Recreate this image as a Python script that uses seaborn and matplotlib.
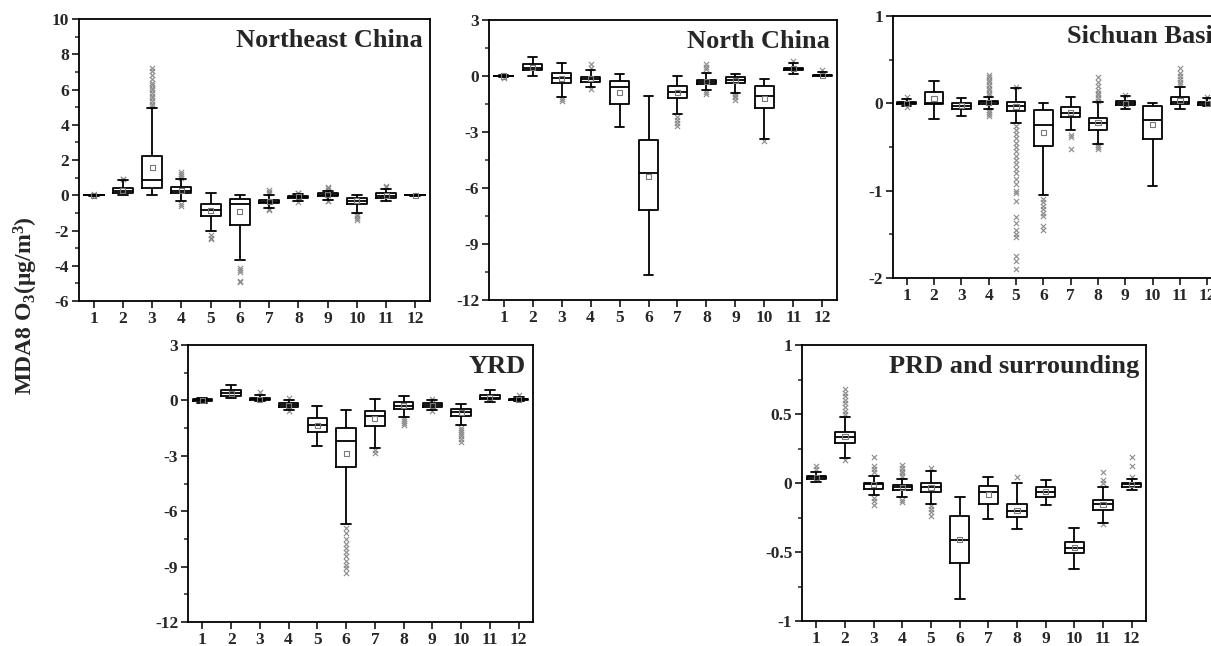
import numpy as np
import pandas as pd
import matplotlib
matplotlib.use("Agg")
import matplotlib.pyplot as plt
from matplotlib.ticker import MultipleLocator, FormatStrFormatter
import seaborn as sns

months = list(range(1, 13))

# ---- Northeast China ----
ne_lo = [-0.03, 0.0, 0.0, -0.35, -2.05, -3.7, -0.7, -0.35, -0.25, -1.0, -0.35, -0.03]
ne_q1 = [-0.01, 0.1, 0.42, 0.1, -1.15, -1.68, -0.45, -0.15, -0.05, -0.48, -0.15, -0.01]
ne_med = [0.0, 0.25, 0.88, 0.25, -0.85, -0.48, -0.37, -0.08, 0.02, -0.3, -0.02, 0.0]
ne_q3 = [0.01, 0.4, 2.25, 0.45, -0.5, -0.22, -0.28, -0.04, 0.1, -0.15, 0.1, 0.01]
ne_hi = [0.03, 0.88, 4.93, 0.9, 0.1, 0.0, 0.0, 0.05, 0.25, 0.0, 0.35, 0.03]
ne_mean = [0.0, 0.25, 1.55, 0.27, -0.85, -0.92, -0.37, -0.08, 0.03, -0.32, -0.03, 0.0]
ne_out = [[0.05, -0.05], [0.95, 0.92],
          [5.05, 5.2, 5.35, 5.5, 5.65, 5.8, 5.95, 6.1, 6.25, 6.35, 6.6, 6.85, 7.05, 7.2],
          [1.0, 1.1, 1.2, 1.3, -0.5, -0.6], [-2.25, -2.4, -2.5],
          [-4.1, -4.25, -4.35, -4.85, -4.95], [0.1, 0.2, 0.3, -0.8, -0.85],
          [0.1, 0.15, -0.4], [0.3, 0.4, 0.45, -0.3, -0.35],
          [-1.1, -1.2, -1.3, -1.4], [0.45, 0.5], []]

# ---- North China ----
nc_lo = [-0.05, 0.0, -1.1, -0.6, -2.75, -10.65, -2.05, -0.75, -0.9, -3.4, 0.1, -0.02]
nc_q1 = [-0.02, 0.3, -0.4, -0.3, -1.5, -7.2, -1.2, -0.45, -0.4, -1.7, 0.3, 0.0]
nc_med = [0.0, 0.45, -0.1, -0.15, -0.6, -5.2, -0.85, -0.3, -0.2, -1.05, 0.4, 0.03]
nc_q3 = [0.02, 0.65, 0.15, -0.05, -0.25, -3.45, -0.55, -0.2, -0.05, -0.55, 0.45, 0.06]
nc_hi = [0.05, 1.0, 0.7, 0.3, 0.1, -1.05, 0.0, 0.15, 0.1, -0.15, 0.7, 0.2]
nc_mean = [0.0, 0.45, -0.15, -0.15, -0.9, -5.4, -0.9, -0.3, -0.25, -1.2, 0.4, 0.04]
nc_out = [[-0.1], [], [-1.25, -1.35], [0.45, 0.65, -0.7], [], [],
          [-2.2, -2.35, -2.5, -2.7], [0.35, 0.5, 0.65, -0.85, -0.95],
          [-0.95, -1.05, -1.15, -1.3], [-3.5], [0.8], [0.3]]

# ---- Sichuan Basin ----
sc_lo = [-0.03, -0.18, -0.14, -0.06, -0.23, -1.05, -0.31, -0.46, -0.07, -0.95, -0.07, -0.03]
sc_q1 = [-0.01, -0.01, -0.07, -0.01, -0.09, -0.49, -0.16, -0.3, -0.02, -0.41, -0.01, -0.02]
sc_med = [0.0, 0.0, -0.03, 0.01, -0.03, -0.25, -0.11, -0.23, 0.0, -0.19, 0.01, 0.0]
sc_q3 = [0.02, 0.13, 0.0, 0.03, 0.02, -0.08, -0.04, -0.17, 0.03, -0.03, 0.07, 0.02]
sc_hi = [0.05, 0.26, 0.06, 0.07, 0.17, 0.0, 0.07, 0.01, 0.08, 0.0, 0.19, 0.06]
sc_mean = [0.0, 0.05, -0.03, 0.01, -0.04, -0.33, -0.1, -0.22, 0.0, -0.24, 0.03, 0.0]
sc_out = [[0.07, -0.04], [], [],
          [0.09, 0.12, 0.15, 0.18, 0.21, 0.24, 0.27, 0.3, 0.32, -0.08, -0.1, -0.12, -0.15],
          [0.19, -0.26, -0.3, -0.35, -0.4, -0.45, -0.5, -0.55, -0.6, -0.65, -0.7, -0.75,
           -0.8, -0.87, -0.92, -1.0, -1.03, -1.12, -1.3, -1.37, -1.45, -1.5, -1.53,
           -1.75, -1.8, -1.9],
          [-1.1, -1.13, -1.17, -1.21, -1.25, -1.29, -1.4, -1.45],
          [-0.36, -0.39, -0.52],
          [0.03, 0.06, 0.09, 0.12, 0.15, 0.2, 0.25, 0.3, -0.48, -0.5, -0.52],
          [0.1], [], [0.22, 0.25, 0.28, 0.31, 0.35, 0.4], [0.07]]

# ---- YRD ----
yrd_lo = [-0.15, 0.15, -0.05, -0.5, -2.45, -6.7, -2.6, -0.9, -0.5, -1.35, -0.1, -0.02]
yrd_q1 = [-0.05, 0.25, 0.0, -0.35, -1.7, -3.6, -1.4, -0.45, -0.35, -0.85, 0.05, 0.0]
yrd_med = [0.0, 0.4, 0.05, -0.25, -1.35, -2.2, -0.85, -0.3, -0.25, -0.65, 0.15, 0.05]
yrd_q3 = [0.05, 0.55, 0.15, -0.15, -0.95, -1.5, -0.55, -0.1, -0.15, -0.45, 0.3, 0.1]
yrd_hi = [0.15, 0.83, 0.3, 0.0, -0.3, -0.5, 0.1, 0.25, 0.0, -0.2, 0.55, 0.2]
yrd_mean = [0.0, 0.4, 0.07, -0.25, -1.35, -2.85, -1.0, -0.3, -0.25, -0.65, 0.15, 0.05]
yrd_out = [[], [], [0.45], [0.15, -0.6], [],
           [-6.9, -7.2, -7.5, -7.8, -8.0, -8.2, -8.4, -8.7, -8.9, -9.1, -9.35],
           [-2.7, -2.85], [-1.0, -1.1, -1.2, -1.35], [0.1, -0.6],
           [-1.5, -1.6, -1.7, -1.8, -1.95, -2.1, -2.25], [], [0.3]]

# ---- PRD and surrounding ----
prd_lo = [0.005, 0.18, -0.09, -0.1, -0.15, -0.84, -0.26, -0.33, -0.16, -0.62, -0.29, -0.05]
prd_q1 = [0.03, 0.29, -0.04, -0.05, -0.065, -0.58, -0.15, -0.245, -0.105, -0.51, -0.195, -0.03]
prd_med = [0.04, 0.33, -0.01, -0.03, -0.03, -0.41, -0.065, -0.2, -0.065, -0.47, -0.155, -0.01]
prd_q3 = [0.05, 0.37, 0.0, -0.015, 0.0, -0.24, -0.02, -0.15, -0.03, -0.43, -0.125, 0.0]
prd_hi = [0.08, 0.48, 0.05, 0.03, 0.085, -0.1, 0.04, 0.0, 0.025, -0.325, -0.03, 0.03]
prd_mean = [0.04, 0.34, -0.01, -0.03, -0.035, -0.41, -0.08, -0.2, -0.065, -0.465, -0.155, -0.01]
prd_out = [[0.1, 0.12], [0.17, 0.5, 0.52, 0.55, 0.58, 0.6, 0.63, 0.65, 0.68],
           [0.08, 0.1, 0.12, 0.19, -0.11, -0.13, -0.16],
           [0.05, 0.07, 0.09, 0.11, 0.13, -0.12, -0.14],
           [0.11, -0.17, -0.19, -0.21, -0.24], [], [], [0.04], [], [],
           [0.0, 0.02, 0.08, -0.3], [0.04, 0.12, 0.19]]

sns.set_style("ticks")
SERIF = ["Liberation Serif", "DejaVu Serif"]
plt.rcParams["font.family"] = SERIF
plt.rcParams["font.weight"] = "bold"
plt.rcParams["axes.unicode_minus"] = False
plt.rcParams["mathtext.fontset"] = "custom"
plt.rcParams["mathtext.rm"] = "Liberation Serif:bold"
plt.rcParams["mathtext.bf"] = "Liberation Serif:bold"
plt.rcParams["mathtext.it"] = "Liberation Serif:bold"

W, H = 1211, 646
fig = plt.figure(figsize=(W / 100, H / 100), dpi=100)


def px_axes(x0, y0, x1, y1):
    return fig.add_axes([x0 / W, 1 - y1 / H, (x1 - x0) / W, (y1 - y0) / H])


def draw_panel(ax, lo, q1, med, q3, hi, mean, outl, title, ylim, major, minor,
               title_x=0.98):
    rows = []
    for m, a, b, c, d, e in zip(months, lo, q1, med, q3, hi):
        for v in (a, b, c, d, e):
            rows.append({"month": m, "value": v})
    df = pd.DataFrame(rows)
    sns.boxplot(data=df, x="month", y="value", native_scale=True, whis=(0, 100),
                width=0.68, fill=False, color="black", linewidth=1.3,
                showfliers=False, ax=ax)
    orows = [{"month": m, "value": v} for m, vals in zip(months, outl) for v in vals]
    odf = pd.DataFrame(orows)
    sns.scatterplot(data=odf, x="month", y="value", marker="x", color="#8a8a8a",
                    s=14, linewidth=0.8, ax=ax, zorder=1)
    mdf = pd.DataFrame({"month": months, "value": mean})
    sns.scatterplot(data=mdf, x="month", y="value", marker="s", facecolor="none",
                    edgecolor="#7a7a7a", s=13, linewidth=0.8, ax=ax, zorder=3)
    ax.set_xlim(0.5, 12.5)
    ax.set_xticks(months)
    ax.set_xticklabels([str(m) for m in months])
    ax.set_ylim(*ylim)
    ax.yaxis.set_major_locator(MultipleLocator(major))
    ax.yaxis.set_minor_locator(MultipleLocator(minor))
    ax.yaxis.set_major_formatter(FormatStrFormatter("%g"))
    ax.set_xlabel("")
    ax.set_ylabel("")
    ax.tick_params(axis="both", which="major", direction="out", length=5, width=1.3,
                   labelsize=12.5, pad=2)
    ax.tick_params(axis="y", which="minor", direction="out", length=3, width=1.1)
    ax.tick_params(top=False, right=False)
    for lab in ax.get_xticklabels() + ax.get_yticklabels():
        lab.set_fontweight("bold")
        lab.set_fontfamily(SERIF)
    for sp in ax.spines.values():
        sp.set_visible(True)
        sp.set_linewidth(1.3)
        sp.set_color("black")
    ax.text(title_x, 0.965, title, transform=ax.transAxes, ha="right", va="top",
            fontsize=19, fontweight="bold", family=SERIF)


ax1 = px_axes(79, 19, 430, 301)
draw_panel(ax1, ne_lo, ne_q1, ne_med, ne_q3, ne_hi, ne_mean, ne_out,
           "Northeast China", (-6, 10), 2, 1)
ax2 = px_axes(489, 20, 837, 300)
draw_panel(ax2, nc_lo, nc_q1, nc_med, nc_q3, nc_hi, nc_mean, nc_out,
           "North China", (-12, 3), 3, 1.5)
ax3 = px_axes(893, 16, 1221, 278)
draw_panel(ax3, sc_lo, sc_q1, sc_med, sc_q3, sc_hi, sc_mean, sc_out,
           "Sichuan Basin", (-2, 1), 1, 0.5, title_x=1.02)
ax4 = px_axes(188, 345, 533, 622)
draw_panel(ax4, yrd_lo, yrd_q1, yrd_med, yrd_q3, yrd_hi, yrd_mean, yrd_out,
           "YRD", (-12, 3), 3, 1.5)
ax5 = px_axes(802, 345, 1146, 621)
draw_panel(ax5, prd_lo, prd_q1, prd_med, prd_q3, prd_hi, prd_mean, prd_out,
           "PRD and surrounding", (-1, 1), 0.5, 0.25)

fig.text(26 / W, 1 - 306 / H, r"MDA8 O$_{3}$(μg/m$^{3}$)", rotation=90,
         ha="center", va="center", fontsize=17, fontweight="bold", family=SERIF)

fig.savefig("out.png", dpi=100)
